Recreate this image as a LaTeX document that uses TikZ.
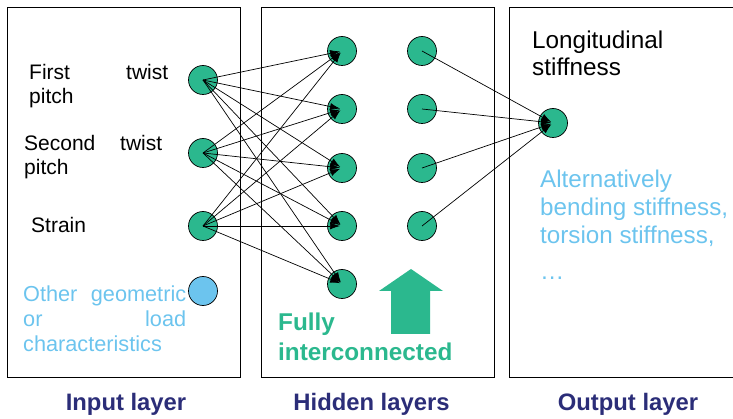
\documentclass[tikz,border=0pt]{standalone}
\usepackage{fontspec}
\setmainfont{Liberation Sans}
\usetikzlibrary{positioning, arrows.meta}
\definecolor{Neuron}{HTML}{2BB88E}
\definecolor{SoftBlue}{HTML}{6CC4EE}
\definecolor{Navy}{HTML}{2B2D78}
\tikzset{
    layerbox/.style={rectangle, draw=black, line width=0.8pt, minimum width=233pt, minimum height=370pt, inner sep=0pt},
    neuron/.style={circle, draw=black, line width=0.7pt, fill=Neuron, minimum size=29pt, inner sep=0pt},
    extraneuron/.style={neuron, fill=SoftBlue},
    arrow/.style={-{Latex[length=10pt, width=7pt]}, line width=0.7pt, shorten >=2pt},
    plaintext/.style={inner sep=0pt, align=left, anchor=north west, font=\fontsize{21}{24.5}\selectfont},
    bluetext/.style={plaintext, text=SoftBlue},
    layerlabel/.style={inner sep=0pt, anchor=base, text=Navy, font=\bfseries\fontsize{23.8}{28}\selectfont},
}

\begin{document}
\begin{tikzpicture}[x=1pt, y=-1pt]
    \useasboundingbox (0,0) rectangle (733,419);

    % --- Layer boxes ---
    \node[layerbox] (inbox) at (123.5,192) {};
    \node[layerbox] (hidbox) at (378,192) {};
    \node[layerbox] (outbox) at (625.5,192) {};

    % --- Neurons ---
    \foreach \y [count=\i] in {80,153,226}
        \node[neuron] (in\i) at (203,\y) {};
    \node[extraneuron] (in4) at (203,291) {};

    \foreach \y [count=\i] in {51,109,168,226,284}
        \node[neuron] (ha\i) at (342,\y) {};
    \foreach \y [count=\i] in {51,109,168,226}
        \node[neuron] (hb\i) at (422,\y) {};

    \node[neuron] (out) at (553,123) {};

    % --- Connections ---
    \foreach \i in {1,2,3}
        \foreach \j in {1,...,5}
            \draw[arrow] (in\i.center) -- (ha\j.center);
    \foreach \k in {1,...,4}
        \draw[arrow] (hb\k.center) -- (out.center);

    % --- Input texts ---
    \node[plaintext, text width=139pt] (first) at (29,64) {First\hfill twist\\pitch};
    \node[plaintext, text width=138pt] (second) at (24,135) {Second\hfill twist\\pitch};
    \node[plaintext, anchor=base west] (strain) at (31,233) {Strain};
    \node[bluetext, text width=163pt, font=\fontsize{21.7}{25}\selectfont] (other) at (23,286)
        {Other\hfill geometric\\or\hfill load\\characteristics};

    % --- Hidden texts ---
    \fill[Neuron] (379,291) -- (411,269) -- (443,291) -- (430,291) -- (430,334)
        -- (391,334) -- (391,291) -- cycle;
    \node[plaintext, text=Neuron, font=\bfseries\fontsize{24.3}{29.8}\selectfont] (fully) at (278,312.6)
        {Fully\\interconnected};

    % --- Output texts ---
    \node[plaintext, font=\fontsize{24.3}{27}\selectfont] (longi) at (532,31) {Longitudinal\\stiffness};
    \node[bluetext, font=\fontsize{24.2}{28.3}\selectfont] (alt) at (540,169.4)
        {Alternatively\\bending stiffness,\\torsion stiffness,\\[7pt]…};

    % --- Layer labels ---
    \node[layerlabel] (inlabel) at (126,410) {Input layer};
    \node[layerlabel] (hidlabel) at (371.5,410) {Hidden layers};
    \node[layerlabel] (outlabel) at (628,410) {Output layer};
\end{tikzpicture}
\end{document}
